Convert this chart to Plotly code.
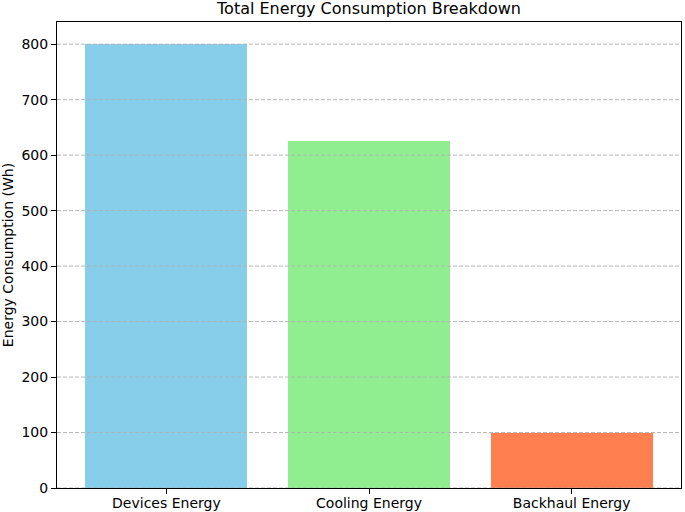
import plotly.graph_objects as go

categories = ["Devices Energy", "Cooling Energy", "Backhaul Energy"]
values = [800, 625, 100]
colors = ["#87CEEB", "#90EE90", "#FF7F50"]
ytick_values = [0, 100, 200, 300, 400, 500, 600, 700, 800]

fig = go.Figure()
fig.add_trace(go.Bar(
    x=list(range(len(categories))), y=values, width=0.8,
    marker=dict(color=colors, line=dict(width=0)),
))

for v in ytick_values:
    fig.add_shape(type="line", xref="paper", x0=0, x1=1, yref="y", y0=v, y1=v,
                  line=dict(color="rgba(176,176,176,0.9)", width=1, dash="4px,2px"),
                  layer="above")

font = "DejaVu Sans"
fig.update_layout(
    width=685, height=512,
    margin=dict(l=57, r=4, t=22, b=24, autoexpand=False),
    plot_bgcolor="white", paper_bgcolor="white",
    showlegend=False,
    font=dict(family=font, size=14, color="black"),
    title=dict(text="Total Energy Consumption Breakdown", x=0.5, xanchor="center",
               xref="paper", yref="paper", y=1, yanchor="bottom",
               pad=dict(b=8), font=dict(family=font, size=16, color="black")),
    bargap=0,
)
fig.update_xaxes(
    range=[-0.54, 2.54], tickvals=list(range(len(categories))), ticktext=categories,
    showgrid=False, zeroline=False, showline=True, linecolor="black", linewidth=1,
    mirror=True, ticks="outside", ticklen=5, tickcolor="black", automargin=False,
    ticklabelstandoff=-3,
    tickfont=dict(family=font, size=14, color="black"),
)
fig.update_yaxes(
    range=[0, 840], tickvals=ytick_values, showgrid=False, zeroline=False,
    showline=True, linecolor="black", linewidth=1, mirror=True, automargin=False,
    ticks="outside", ticklen=5, tickcolor="black",
    tickfont=dict(family=font, size=14, color="black"),
    title=dict(text="Energy Consumption (Wh)", standoff=12,
               font=dict(family=font, size=14, color="black")),
)

fig.write_html("out.html", config={"displayModeBar": False},
               post_script="document.body.style.margin='0';document.body.style.padding='0';")
